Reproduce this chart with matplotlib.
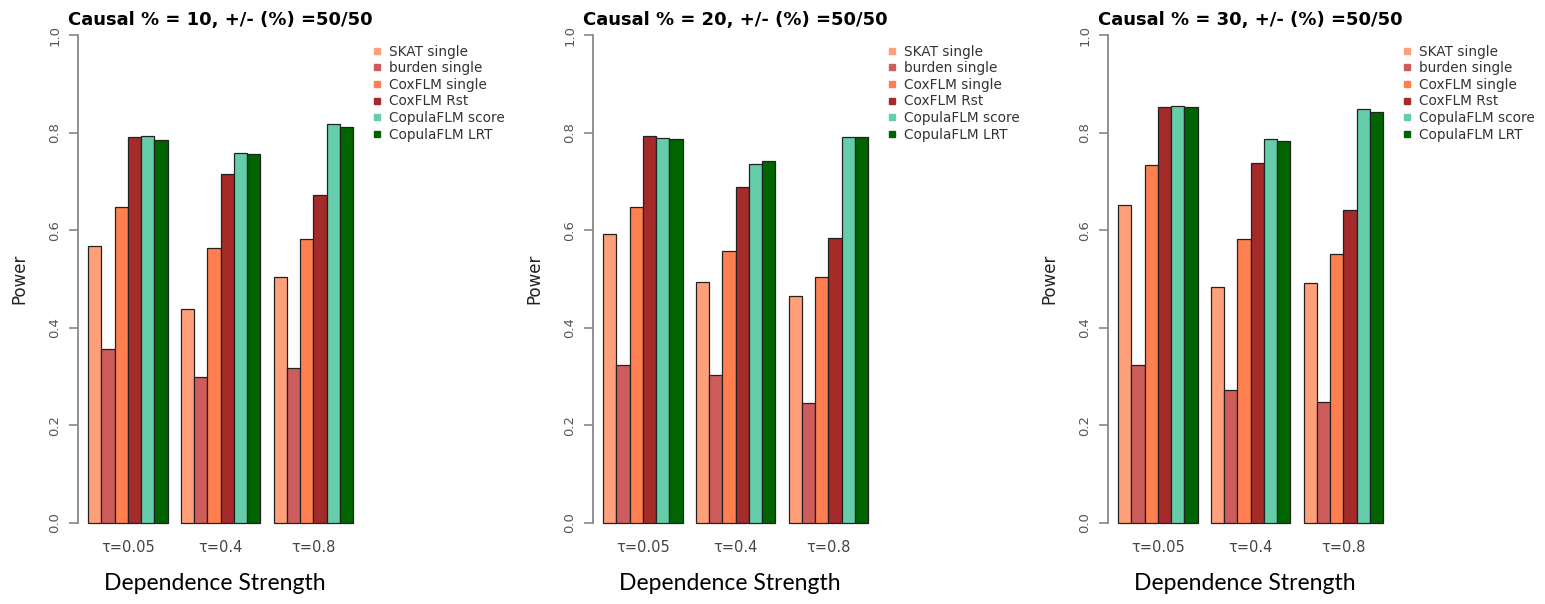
import numpy as np
import matplotlib
matplotlib.use("Agg")
import matplotlib.pyplot as plt
from matplotlib.lines import Line2D

# methods / colours (R colour names)
methods = ["SKAT single", "burden single", "CoxFLM single", "CoxFLM Rst",
           "CopulaFLM score", "CopulaFLM LRT"]
colors = ["#FFA07A", "#CD5C5C", "#FF7F50", "#A52A2A", "#66CDAA", "#006400"]
tau_labels = ["τ=0.05", "τ=0.4", "τ=0.8"]
causal = [10, 20, 30]

# power per method (rows) for each tau (cols)
power_c10 = [[0.568, 0.439, 0.505],
             [0.356, 0.299, 0.317],
             [0.647, 0.563, 0.581],
             [0.791, 0.715, 0.673],
             [0.793, 0.759, 0.817],
             [0.786, 0.756, 0.812]]
power_c20 = [[0.592, 0.493, 0.466],
             [0.324, 0.303, 0.246],
             [0.647, 0.557, 0.505],
             [0.793, 0.689, 0.585],
             [0.789, 0.735, 0.791],
             [0.788, 0.741, 0.791]]
power_c30 = [[0.652, 0.483, 0.492],
             [0.323, 0.272, 0.247],
             [0.733, 0.581, 0.551],
             [0.853, 0.737, 0.641],
             [0.855, 0.788, 0.849],
             [0.853, 0.782, 0.842]]
all_power = [power_c10, power_c20, power_c30]

W, H = 1545, 604
fig = plt.figure(figsize=(W / 100, H / 100), dpi=100)

n_m = len(methods)
for p in range(3):
    left = 77.5 + p * 515
    ax = fig.add_axes([left / W, (H - 542.2) / H, 286.2 / W, 526.5 / H])
    vals = np.array(all_power[p])
    # R barplot(beside=TRUE) positions: groups of 6, space of 1 between groups
    for m in range(n_m):
        xs = [1 + g * (n_m + 1) + m + 0.5 for g in range(3)]
        ax.bar(xs, vals[m], width=1.0, color=colors[m], edgecolor="#222222",
               linewidth=0.9)
    ax.set_xlim(0.2, 21.8)
    ax.set_ylim(-0.04, 1.04)
    for s in ["top", "right", "bottom"]:
        ax.spines[s].set_visible(False)
    ax.spines["left"].set_bounds(0, 1)
    ax.spines["left"].set_color("#888888")
    ax.spines["left"].set_linewidth(1.3)
    ax.set_yticks([0, 0.2, 0.4, 0.6, 0.8, 1.0])
    ax.set_yticklabels(["0.0", "0.2", "0.4", "0.6", "0.8", "1.0"], rotation=90,
                       va="center", fontsize=9.5, color="#555555")
    ax.tick_params(axis="y", length=6.5, width=1.2, color="#888888", pad=5)
    ax.set_xticks([])

    for g in range(3):
        ax.text(1 + g * (n_m + 1) + n_m / 2, -0.011, tau_labels[g],
                transform=ax.get_xaxis_transform(), ha="center", va="center",
                fontsize=10.5, color="#444444")
    ax.text(0.48, -0.0775, "Dependence Strength", transform=ax.transAxes,
            ha="center", va="center", fontsize=16.5, family="Lato", color="black")
    ax.text(-0.204, 0.5, "Power", transform=ax.transAxes, rotation=90,
            ha="center", va="center", fontsize=12, color="#222222")
    ax.text(-0.0335, 0.9918, "Causal % = " + str(causal[p]) + ", +/- (%) =50/50",
            transform=ax.transAxes, ha="left", va="center", fontsize=13,
            fontweight="bold")

    handles = [Line2D([0], [0], marker="s", linestyle="none", markersize=5,
                      markerfacecolor=c, markeredgecolor=c) for c in colors]
    leg = ax.legend(handles, methods, loc="upper left", bbox_to_anchor=(1.027, 0.945),
                    frameon=False, fontsize=9.8, borderpad=0, borderaxespad=0,
                    handlelength=0.8, handletextpad=0.49, labelspacing=0.19)
    for t in leg.get_texts():
        t.set_color("#333333")

fig.savefig("out.png", dpi=100)
